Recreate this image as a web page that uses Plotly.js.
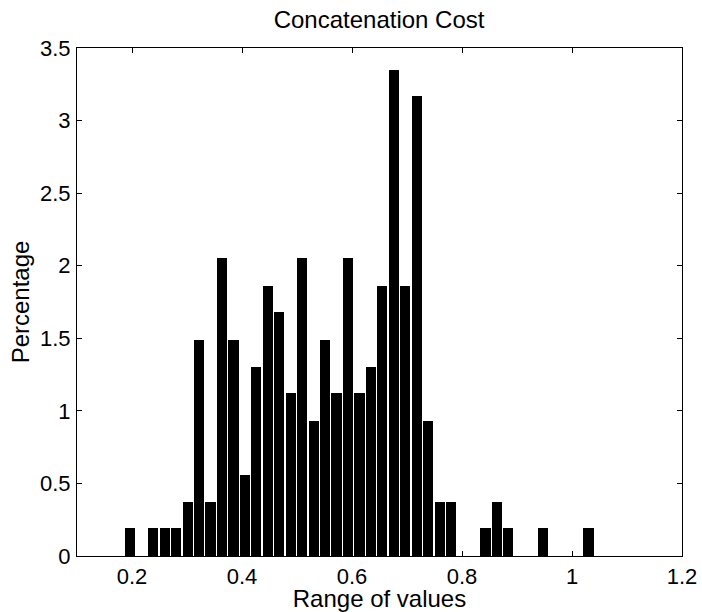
<!DOCTYPE html>
<html>
<head>
<meta charset="utf-8">
<script src="https://cdn.plot.ly/plotly-3.0.1.min.js"></script>
<style>
  html, body { margin: 0; padding: 0; background: #fff; }
  #chart { width: 702px; height: 612px; }
</style>
</head>
<body>
<div id="chart"></div>
<script>
// Bin centres (Range of values)
const binCenters = [
  0.1970, 0.2178, 0.2387, 0.2595, 0.2803, 0.3011, 0.3220, 0.3428, 0.3636, 0.3844,
  0.4053, 0.4261, 0.4469, 0.4677, 0.4886, 0.5094, 0.5302, 0.5510, 0.5719, 0.5927,
  0.6135, 0.6343, 0.6552, 0.6760, 0.6968, 0.7176, 0.7385, 0.7593, 0.7801, 0.8009,
  0.8218, 0.8426, 0.8634, 0.8842, 0.9051, 0.9259, 0.9467, 0.9675, 0.9884, 1.0092,
  1.0300
];
// Percentage per bin
const percentages = [
  0.19, 0.00, 0.19, 0.19, 0.19, 0.37, 1.49, 0.37, 2.05, 1.49,
  0.56, 1.30, 1.86, 1.68, 1.12, 2.05, 0.93, 1.49, 1.12, 2.05,
  1.12, 1.30, 1.86, 3.35, 1.86, 3.17, 0.93, 0.37, 0.37, 0.00,
  0.00, 0.19, 0.37, 0.19, 0.00, 0.00, 0.19, 0.00, 0.00, 0.00,
  0.19
];
const xTicks = [0.2, 0.4, 0.6, 0.8, 1.0, 1.2];
const xTickText = ['0.2', '0.4', '0.6', '0.8', '1', '1.2'];
const yTicks = [0, 0.5, 1, 1.5, 2, 2.5, 3, 3.5];
const yTickText = ['0', '0.5', '1', '1.5', '2', '2.5', '3', '3.5'];

const FONT = 'Liberation Sans, Arial, Helvetica, sans-serif';

const trace = {
  type: 'bar',
  x: binCenters,
  y: percentages,
  width: 0.0185,
  marker: { color: '#000000', line: { width: 0 } },
  hoverinfo: 'x+y'
};

const axisCommon = {
  showline: true,
  linecolor: '#000',
  linewidth: 1,
  mirror: 'ticks',
  ticks: 'inside',
  ticklen: 5,
  tickwidth: 1,
  tickcolor: '#000',
  showgrid: false,
  zeroline: false,
  tickfont: { family: FONT, size: 22, color: '#000' }
};

const layout = {
  width: 702,
  height: 612,
  margin: { l: 77, r: 20, t: 48, b: 56, pad: 0 },
  paper_bgcolor: '#fff',
  plot_bgcolor: '#fff',
  showlegend: false,
  bargap: 0,
  title: {
    text: 'Concatenation Cost',
    font: { family: FONT, size: 24, color: '#000' },
    x: 0.54, xanchor: 'center',
    y: 0.968, yanchor: 'middle'
  },
  xaxis: Object.assign({}, axisCommon, {
    range: [0.1, 1.2],
    tickvals: xTicks,
    ticktext: xTickText,
    ticklabelstandoff: 1,
    title: { text: 'Range of values', font: { family: FONT, size: 24, color: '#000' }, standoff: 0 }
  }),
  yaxis: Object.assign({}, axisCommon, {
    range: [0, 3.5],
    tickvals: yTicks,
    ticktext: yTickText,
    ticklabelstandoff: 1,
    title: { text: 'Percentage', font: { family: FONT, size: 24, color: '#000' }, standoff: 3 }
  })
};

Plotly.newPlot('chart', [trace], layout, { staticPlot: true, displayModeBar: false });
</script>
</body>
</html>
